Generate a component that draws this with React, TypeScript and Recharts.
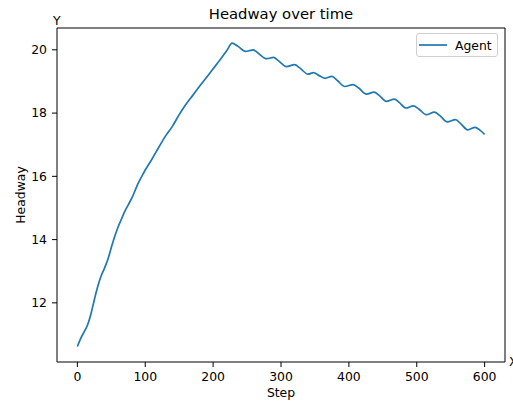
import React from 'react';
import { LineChart, Line, XAxis, YAxis, Legend, Customized, ReferenceLine } from 'recharts';

const steps = [
  0, 5, 10, 15, 20, 25, 30, 35, 40, 45, 50, 55, 60, 65, 70, 75, 80, 85, 90, 95,
  100, 110, 120, 130, 140, 150, 160, 170, 180, 190, 200, 210, 220, 228,
  236, 248, 253, 259, 266, 279, 289, 296, 308, 320, 328, 340, 348, 355, 365, 375,
  383, 394, 406, 414, 426, 437, 445, 455, 467, 474, 484, 495, 503, 514, 526, 534,
  545, 557, 565, 575, 586, 593, 600,
];
const headway = [
  10.62, 10.88, 11.08, 11.3, 11.65, 12.1, 12.52, 12.85, 13.1, 13.38, 13.75, 14.1, 14.4, 14.65, 14.9, 15.1, 15.3, 15.55, 15.8, 16.0,
  16.2, 16.55, 16.92, 17.28, 17.58, 17.95, 18.28, 18.56, 18.85, 19.12, 19.4, 19.68, 19.97, 20.21,
  20.12, 19.95, 19.97, 20.0, 19.9, 19.72, 19.76, 19.66, 19.47, 19.53, 19.42, 19.23, 19.28, 19.2, 19.1, 19.16,
  19.03, 18.84, 18.9, 18.8, 18.6, 18.66, 18.55, 18.37, 18.44, 18.34, 18.16, 18.23, 18.13, 17.95, 18.03, 17.92,
  17.72, 17.79, 17.66, 17.47, 17.55, 17.46, 17.33,
];
const xTicks = [0, 100, 200, 300, 400, 500, 600];
const yTicks = [12, 14, 16, 18, 20];
const seriesName = 'Agent';
const xDomain = [-30, 630];
const yDomain = [10.13, 20.69];

const data = steps.map((s, i) => ({ step: s, headway: headway[i] }));

const FONT = '"DejaVu Sans", sans-serif';
const BLUE = '#1f77b4';
const FS = 12.4;

const LegendBox = () => (
  <div
    style={{
      boxSizing: 'border-box',
      width: 82,
      height: 24,
      border: '1px solid #d0d0d0',
      borderRadius: 3,
      background: 'rgba(255,255,255,0.8)',
      display: 'flex',
      alignItems: 'center',
      fontFamily: FONT,
      fontSize: FS,
      color: '#000',
    }}
  >
    <svg width={38} height={22} style={{ display: 'block' }}>
      <line x1={2} y1={11} x2={30} y2={11} stroke={BLUE} strokeWidth={1.7} />
    </svg>
    <span>{seriesName}</span>
  </div>
);

const Texts = () => (
  <g fontFamily={FONT} fill="#000">
    <text x={281} y={19} textAnchor="middle" fontSize={14.8}>Headway over time</text>
    <text x={53} y={25} fontSize={FS}>Y</text>
    <text x={509} y={366} fontSize={FS}>X</text>
    <text x={281} y={397} textAnchor="middle" fontSize={FS}>Step</text>
    <text x={25} y={195} textAnchor="middle" fontSize={FS} transform="rotate(-90 25 195)">Headway</text>
  </g>
);

export default function App() {
  return (
    <div style={{ position: 'absolute', left: 0, top: 0, background: '#fff' }}>
      <LineChart
        width={513}
        height={405}
        data={data}
        margin={{ top: 28, right: 8, bottom: 0, left: 0 }}
      >
        <XAxis
          dataKey="step"
          type="number"
          domain={xDomain}
          ticks={xTicks}
          height={43}
          tickSize={5}
          tickMargin={5}
          stroke="#000"
          tick={{ fill: '#000', fontSize: FS, fontFamily: FONT }}
          allowDataOverflow
        />
        <YAxis
          type="number"
          domain={yDomain}
          ticks={yTicks}
          width={57}
          tickSize={5}
          tickMargin={5}
          stroke="#000"
          tick={{ fill: '#000', fontSize: FS, fontFamily: FONT }}
          allowDataOverflow
        />
        <ReferenceLine y={yDomain[1]} stroke="#000" strokeWidth={1} ifOverflow="visible" />
        <ReferenceLine x={xDomain[1]} stroke="#000" strokeWidth={1} ifOverflow="visible" />
        <Line
          type="monotone"
          dataKey="headway"
          name={seriesName}
          stroke={BLUE}
          strokeWidth={1.7}
          dot={false}
          isAnimationActive={false}
        />
        <Legend
          layout="vertical"
          align="center"
          verticalAlign="middle"
          content={() => <LegendBox />}
          wrapperStyle={{ top: 33, left: 416, width: 82, height: 24 }}
        />
        <Customized component={Texts} />
      </LineChart>
    </div>
  );
}
